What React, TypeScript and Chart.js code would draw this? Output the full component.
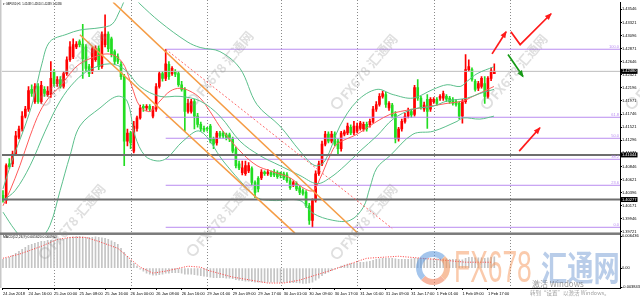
import React, { useEffect, useRef } from "react";
import { Chart, registerables } from "chart.js";

Chart.register(...registerables);

const symbolTitle = "▾ GBPUSD,H1  1.42439 1.42610 1.42439 1.42480";
const macdTitle = "MACD(12,26,9) 0.001620 0.000960";

const timeLabels = [
  "24 Jan 2018", "24 Jan 16:00", "25 Jan 00:00", "25 Jan 08:00", "25 Jan 16:00",
  "26 Jan 00:00", "26 Jan 08:00", "26 Jan 16:00", "29 Jan 01:00", "29 Jan 09:00",
  "29 Jan 17:00", "30 Jan 01:00", "30 Jan 09:00", "30 Jan 17:00", "31 Jan 01:00",
  "31 Jan 09:00", "31 Jan 17:00", "1 Feb 01:00", "1 Feb 09:00", "1 Feb 17:00",
];
const barsPerTimeLabel = 8;
const daySeparatorBars = [16, 40, 64, 87, 111, 135, 159];

const opens = [
  1.4035, 1.4026, 1.4089, 1.4089, 1.4106, 1.4135, 1.4149, 1.4171, 1.4183, 1.4217,
  1.4196, 1.4222, 1.4196, 1.4217, 1.4208, 1.4208, 1.4248, 1.4227, 1.4234, 1.4222,
  1.4244, 1.4268, 1.4273, 1.4290, 1.4299, 1.4295, 1.4290, 1.4256, 1.4248, 1.4268,
  1.4287, 1.4256, 1.4294, 1.4312, 1.4304, 1.4282, 1.4273, 1.4260, 1.4239, 1.4128,
  1.4142, 1.4111, 1.4150, 1.4168, 1.4188, 1.4185, 1.4188, 1.4171, 1.4183, 1.4222,
  1.4244, 1.4236, 1.4260, 1.4244, 1.4248, 1.4244, 1.4225, 1.4217, 1.4179, 1.4179,
  1.4196, 1.4171, 1.4157, 1.4150, 1.4150, 1.4154, 1.4132, 1.4125, 1.4142, 1.4142,
  1.4139, 1.4139, 1.4132, 1.4115, 1.4089, 1.4074, 1.4072, 1.4077, 1.4081, 1.4057,
  1.4064, 1.4065, 1.4075, 1.4072, 1.4074, 1.4075, 1.4074, 1.4074, 1.4072, 1.4070,
  1.4060, 1.4053, 1.4055, 1.4048, 1.4043, 1.4040, 1.4017, 1.3992, 1.4026, 1.4072,
  1.4089, 1.4123, 1.4140, 1.4128, 1.4140, 1.4128, 1.4115, 1.4140, 1.4142, 1.4152,
  1.4142, 1.4145, 1.4150, 1.4149, 1.4157, 1.4156, 1.4162, 1.4183, 1.4191, 1.4205,
  1.4208, 1.4185, 1.4190, 1.4174, 1.4132, 1.4149, 1.4162, 1.4171, 1.4179, 1.4174,
  1.4220, 1.4202, 1.4183, 1.4200, 1.4183, 1.4196, 1.4200, 1.4202, 1.4202, 1.4205,
  1.4202, 1.4200, 1.4196, 1.4193, 1.4171, 1.4196, 1.4251, 1.4251, 1.4231, 1.4219,
  1.4222, 1.4227, 1.4205, 1.4236, 1.4244,
];
const highs = [
  1.4043, 1.4089, 1.4098, 1.4111, 1.4145, 1.4154, 1.4179, 1.4188, 1.4222, 1.4225,
  1.4227, 1.4227, 1.4231, 1.4222, 1.4222, 1.4265, 1.4251, 1.4239, 1.4239, 1.4248,
  1.4273, 1.4299, 1.4304, 1.4299, 1.4302, 1.4329, 1.4294, 1.4260, 1.4290, 1.4292,
  1.4292, 1.4316, 1.4345, 1.4316, 1.4307, 1.4285, 1.4278, 1.4265, 1.4243, 1.4149,
  1.4145, 1.4162, 1.4171, 1.4190, 1.4191, 1.4191, 1.4191, 1.4188, 1.4227, 1.4248,
  1.4248, 1.4286, 1.4265, 1.4256, 1.4251, 1.4248, 1.4231, 1.4220, 1.4200, 1.4200,
  1.4200, 1.4176, 1.4161, 1.4154, 1.4152, 1.4157, 1.4135, 1.4145, 1.4145, 1.4145,
  1.4142, 1.4142, 1.4135, 1.4118, 1.4094, 1.4094, 1.4094, 1.4091, 1.4084, 1.4060,
  1.4067, 1.4079, 1.4077, 1.4079, 1.4077, 1.4079, 1.4077, 1.4075, 1.4075, 1.4074,
  1.4064, 1.4060, 1.4058, 1.4052, 1.4046, 1.4043, 1.4021, 1.4029, 1.4077, 1.4094,
  1.4128, 1.4145, 1.4144, 1.4145, 1.4144, 1.4132, 1.4145, 1.4147, 1.4159, 1.4156,
  1.4162, 1.4159, 1.4162, 1.4161, 1.4161, 1.4166, 1.4188, 1.4196, 1.4210, 1.4214,
  1.4212, 1.4196, 1.4193, 1.4179, 1.4152, 1.4166, 1.4176, 1.4185, 1.4183, 1.4224,
  1.4234, 1.4205, 1.4195, 1.4208, 1.4203, 1.4203, 1.4203, 1.4208, 1.4214, 1.4208,
  1.4205, 1.4203, 1.4200, 1.4196, 1.4200, 1.4277, 1.4268, 1.4254, 1.4234, 1.4231,
  1.4239, 1.4239, 1.4239, 1.4254, 1.4261,
];
const lows = [
  1.4023, 1.4021, 1.4081, 1.4084, 1.4103, 1.4132, 1.4145, 1.4168, 1.4179, 1.4205,
  1.4193, 1.4193, 1.4193, 1.4205, 1.4205, 1.4203, 1.4222, 1.4222, 1.4219, 1.4219,
  1.4241, 1.4265, 1.4270, 1.4287, 1.4290, 1.4236, 1.4248, 1.4239, 1.4244, 1.4265,
  1.4251, 1.4253, 1.4290, 1.4282, 1.4273, 1.4260, 1.4261, 1.4234, 1.4086, 1.4120,
  1.4115, 1.4108, 1.4145, 1.4166, 1.4179, 1.4181, 1.4179, 1.4168, 1.4179, 1.4219,
  1.4231, 1.4232, 1.4234, 1.4241, 1.4239, 1.4222, 1.4214, 1.4145, 1.4176, 1.4176,
  1.4149, 1.4152, 1.4145, 1.4144, 1.4145, 1.4125, 1.4115, 1.4121, 1.4133, 1.4133,
  1.4130, 1.4127, 1.4108, 1.4082, 1.4079, 1.4070, 1.4069, 1.4074, 1.4053, 1.4031,
  1.4041, 1.4062, 1.4069, 1.4069, 1.4067, 1.4067, 1.4064, 1.4065, 1.4062, 1.4057,
  1.4045, 1.4050, 1.4043, 1.4036, 1.4035, 1.4014, 1.3985, 1.3980, 1.4023, 1.4069,
  1.4086, 1.4120, 1.4125, 1.4125, 1.4120, 1.4106, 1.4111, 1.4137, 1.4139, 1.4139,
  1.4139, 1.4142, 1.4147, 1.4145, 1.4145, 1.4152, 1.4159, 1.4179, 1.4188, 1.4202,
  1.4186, 1.4181, 1.4168, 1.4125, 1.4128, 1.4145, 1.4159, 1.4168, 1.4169, 1.4171,
  1.4198, 1.4183, 1.4179, 1.4150, 1.4179, 1.4193, 1.4190, 1.4198, 1.4198, 1.4196,
  1.4193, 1.4190, 1.4188, 1.4166, 1.4159, 1.4193, 1.4248, 1.4231, 1.4214, 1.4215,
  1.4219, 1.4193, 1.4202, 1.4232, 1.4244,
];
const closes = [
  1.4026, 1.4086, 1.4084, 1.4106, 1.4137, 1.4149, 1.4171, 1.4183, 1.4215, 1.4210,
  1.4222, 1.4196, 1.4224, 1.4210, 1.4214, 1.4236, 1.4227, 1.4234, 1.4222, 1.4244,
  1.4268, 1.4290, 1.4294, 1.4295, 1.4294, 1.4270, 1.4253, 1.4244, 1.4287, 1.4287,
  1.4256, 1.4311, 1.4312, 1.4287, 1.4277, 1.4265, 1.4265, 1.4239, 1.4128, 1.4142,
  1.4125, 1.4154, 1.4168, 1.4185, 1.4185, 1.4188, 1.4183, 1.4183, 1.4222, 1.4244,
  1.4236, 1.4261, 1.4239, 1.4253, 1.4243, 1.4225, 1.4217, 1.4179, 1.4193, 1.4196,
  1.4171, 1.4157, 1.4149, 1.4147, 1.4149, 1.4128, 1.4123, 1.4142, 1.4137, 1.4137,
  1.4133, 1.4132, 1.4111, 1.4086, 1.4082, 1.4082, 1.4086, 1.4086, 1.4057, 1.4040,
  1.4046, 1.4075, 1.4072, 1.4075, 1.4070, 1.4070, 1.4067, 1.4069, 1.4065, 1.4060,
  1.4048, 1.4057, 1.4046, 1.4040, 1.4038, 1.4017, 1.3992, 1.4026, 1.4072, 1.4089,
  1.4123, 1.4140, 1.4128, 1.4140, 1.4123, 1.4115, 1.4142, 1.4144, 1.4154, 1.4142,
  1.4154, 1.4154, 1.4159, 1.4157, 1.4149, 1.4162, 1.4183, 1.4191, 1.4205, 1.4210,
  1.4191, 1.4193, 1.4171, 1.4132, 1.4149, 1.4162, 1.4171, 1.4179, 1.4173, 1.4220,
  1.4202, 1.4186, 1.4190, 1.4179, 1.4200, 1.4200, 1.4193, 1.4205, 1.4210, 1.4200,
  1.4196, 1.4193, 1.4191, 1.4171, 1.4196, 1.4251, 1.4256, 1.4234, 1.4217, 1.4227,
  1.4236, 1.4205, 1.4236, 1.4249, 1.4248,
];

// Bollinger bands and moving average as [bar, price]
const bbUpper = [
  [0, 1.4046], [2.8, 1.4094], [6.9, 1.4154], [9.4, 1.4197], [12.2, 1.4261], [14.7, 1.4299],
  [20.1, 1.4312], [24.1, 1.4319], [30.4, 1.4323], [34.2, 1.4329], [36.7, 1.4353], [38.9, 1.4376],
  [40.8, 1.4376], [42.9, 1.4364], [49.2, 1.4333], [57.7, 1.4299], [61.8, 1.4289], [68, 1.4282],
  [74.3, 1.4253], [79.6, 1.4191], [86.8, 1.4154], [93.1, 1.4111], [97.8, 1.4086], [100.9, 1.4094],
  [105.6, 1.4154], [111, 1.4197], [117.2, 1.4217], [122.3, 1.4208], [128.5, 1.4202], [134.8, 1.4217],
  [139.2, 1.4225], [143.3, 1.4222], [145.5, 1.4231], [148.6, 1.4244], [153.9, 1.4256],
];
const bbMiddle = [
  [0, 1.4026], [3.8, 1.4043], [8.5, 1.4086], [13.2, 1.4145], [17.9, 1.4197], [22.6, 1.4231],
  [27.3, 1.4251], [33.5, 1.4261], [38.2, 1.4251], [42.9, 1.4222], [49.2, 1.4205], [55.5, 1.4205],
  [61.8, 1.4197], [68, 1.4171], [74.3, 1.4128], [80.6, 1.4103], [86.8, 1.4086], [93.1, 1.4069],
  [98.4, 1.4055], [102.5, 1.4065], [107.2, 1.4086], [111.9, 1.4111], [117.2, 1.4137], [122.3, 1.4166],
  [128.5, 1.4183], [134.8, 1.4188], [139.2, 1.4197], [145.5, 1.4202], [149.5, 1.4210], [153.9, 1.4217],
];
const bbLower = [
  [0, 1.4006], [3.8, 1.3975], [6.9, 1.3958], [11.6, 1.3961], [14.7, 1.3983], [17.9, 1.4043],
  [21, 1.4103], [24.1, 1.4154], [30.4, 1.4185], [35.7, 1.4205], [38.9, 1.4197], [41.4, 1.4137],
  [44.5, 1.4103], [48.3, 1.4094], [51.4, 1.4099], [56.4, 1.4128], [61.8, 1.4145], [69, 1.4094],
  [74.3, 1.4060], [79.6, 1.4031], [84.6, 1.4026], [93.1, 1.4026], [97.2, 1.4004], [103.4, 1.3992],
  [108.8, 1.3992], [112.9, 1.4014], [115, 1.4048], [117.2, 1.4082], [121.3, 1.4103], [128.5, 1.4140],
  [134.8, 1.4145], [142.3, 1.4162], [144.2, 1.4168], [149.5, 1.4166], [153.9, 1.4171],
];
const maRed = [
  [0, 1.4017], [2.2, 1.4043], [5.3, 1.4086], [8.5, 1.4137], [11.6, 1.4179], [14.7, 1.4205],
  [17.9, 1.4222], [21, 1.4244], [24.1, 1.4261], [28.8, 1.4273], [32.6, 1.4278], [35.7, 1.4273],
  [38.2, 1.4256], [40.4, 1.4222], [42.9, 1.4188], [46.1, 1.4179], [49.2, 1.4197], [52.4, 1.4214],
  [55.5, 1.4219], [58.6, 1.4214], [61.8, 1.4202], [64.9, 1.4179], [69, 1.4145], [75.2, 1.4106],
  [79.6, 1.4086], [83.7, 1.4077], [90, 1.4065], [94, 1.4048], [97.2, 1.4043], [99.4, 1.4064],
  [102.5, 1.4103], [104.7, 1.4123], [111, 1.4140], [117.2, 1.4162], [121.3, 1.4174], [124.5, 1.4179],
  [130.7, 1.4185], [139.2, 1.4193], [144.2, 1.4197], [147.3, 1.4205], [153.9, 1.4222],
];

const macdMain = [
  0.0018, 0.0020, 0.0022, 0.0026, 0.0030, 0.0034, 0.0038, 0.0042, 0.0046, 0.0048,
  0.0050, 0.0052, 0.0054, 0.0054, 0.0056, 0.0056, 0.0056, 0.0058, 0.0058, 0.0058,
  0.0060, 0.0062, 0.0063, 0.0064, 0.0064, 0.0063, 0.0062, 0.0062, 0.0062, 0.0063,
  0.0062, 0.0061, 0.0060, 0.0058, 0.0055, 0.0052, 0.0048, 0.0040, 0.0032, 0.0024,
  0.0016, 0.0010, 0.0004, -0.0002, -0.0006, -0.0010, -0.0012, -0.0014, -0.0014, -0.0013,
  -0.0012, -0.0010, -0.0010, -0.0009, -0.0009, -0.0009, -0.0010, -0.0012, -0.0012, -0.0012,
  -0.0013, -0.0014, -0.0015, -0.0016, -0.0017, -0.0018, -0.0019, -0.0019, -0.0019, -0.0019,
  -0.0020, -0.0020, -0.0021, -0.0023, -0.0024, -0.0025, -0.0026, -0.0026, -0.0027, -0.0028,
  -0.0028, -0.0028, -0.0028, -0.0028, -0.0028, -0.0028, -0.0028, -0.0028, -0.0028, -0.0028,
  -0.0029, -0.0029, -0.0029, -0.0030, -0.0031, -0.0031, -0.0030, -0.0028, -0.0024, -0.0020,
  -0.0015, -0.0011, -0.0008, -0.0005, -0.0002, 0.0001, 0.0004, 0.0006, 0.0008, 0.0009,
  0.0010, 0.0011, 0.0012, 0.0012, 0.0013, 0.0014, 0.0016, 0.0018, 0.0019, 0.0020,
  0.0020, 0.0020, 0.0020, 0.0019, 0.0018, 0.0018, 0.0018, 0.0018, 0.0019, 0.0020,
  0.0020, 0.0020, 0.0020, 0.0019, 0.0019, 0.0019, 0.0019, 0.0019, 0.0019, 0.0019,
  0.0018, 0.0018, 0.0018, 0.0017, 0.0017, 0.0020, 0.0022, 0.0022, 0.0021, 0.0021,
  0.0021, 0.0020, 0.0021, 0.0022, 0.0023,
];
const macdSignal = [
  [0, 0.0020], [5, 0.0028], [12, 0.0044], [17, 0.0058], [21, 0.0062], [26, 0.0062],
  [30, 0.0054], [36, 0.0040], [40, 0.0018], [43, 0.0002], [47, -0.0010], [51, -0.0006],
  [58, 0.0004], [62, 0.0002], [64, -0.0004], [72, -0.0018], [83, -0.0030], [88, -0.0030],
  [93, -0.0024], [103, -0.0004], [114, 0.0020], [124, 0.0024], [135, 0.0018], [145, 0.0012],
  [153, 0.0012],
];

const fiboHigh = 1.4286;
const fiboLow = 1.3980;
const fiboStartBar = 51;
const fiboLevels = [0, 23.6, 38.2, 50, 61.8, 100];
const fiboTrend = [[51, 1.4286], [122, 1.3978]];
const channelUpper = [[34.5, 1.4367], [111, 1.3971]];
const channelLower = [[24.1, 1.4311], [91.5, 1.3970]];
const supportLevels = [1.41044, 1.40277];
const currentPrice = 1.4248;

const arrowRedA = [[153.3, 1.4278], [157.7, 1.4316]];
const arrowRedB = [[159.2, 1.4316], [162.1, 1.4294], [171.8, 1.4347]];
const arrowGreen = [[158.3, 1.4277], [163.0, 1.4239]];
const arrowRedC = [[161.8, 1.4111], [168.3, 1.4151]];

const priceTicks = [
  1.43546, 1.43321, 1.43096, 1.42871, 1.42646, 1.42421, 1.42196, 1.41971, 1.41746,
  1.41521, 1.41296, 1.41071, 1.40846, 1.40621, 1.40396, 1.40171, 1.39946, 1.39721,
];
const macdTicks = [0.006436, 0, -0.003843];
const macdTickLabels = ["0.006436", "0.00", "-0.003843"];

const X_MIN = -0.31;
const X_MAX = 193.4;
const PRICE_TOP = 1.43665;
const PRICE_BOTTOM = 1.39694;
const MACD_TOP = 0.007;
const MACD_BOTTOM = -0.004;

const FONT = '"Liberation Sans", Arial, sans-serif';
const FIBO_COLOR = "#b98cf0";

const pts = (arr: number[][]) => arr.map(([x, y]) => ({ x, y }));
const fiboPrice = (lvl: number) => fiboLow + ((fiboHigh - fiboLow) * lvl) / 100;

const watermarkSpots = [
  [45, 100], [193, 100], [337, 103], [487, 103], [632, 103],
  [45, 253], [193, 250], [337, 253],
];

export default function App() {
  const canvasRef = useRef<HTMLCanvasElement | null>(null);

  useEffect(() => {
    document.body.style.margin = "0";
    const canvas = canvasRef.current;
    if (!canvas) return;

    const RED = "#ff0000";
    const GREEN = "#22dd22";
    const colors = closes.map((c, i) => (c >= opens[i] ? RED : GREEN));

    const line = (data: any[], color: string, width: number, extra: any = {}) => ({
      type: "line",
      data,
      borderColor: color,
      borderWidth: width,
      pointRadius: 0,
      fill: false,
      yAxisID: "y",
      clip: false,
      order: 5,
      ...extra,
    });

    const hLine = (price: number, color: string, width: number, from: number, order = 6) =>
      line([{ x: from, y: price }, { x: X_MAX, y: price }], color, width, { order });

    const datasets: any[] = [
      {
        type: "bar",
        data: highs.map((h, i) => ({ x: i, y: [lows[i], h] })),
        backgroundColor: colors,
        barThickness: 1,
        grouped: false,
        yAxisID: "y",
        clip: false,
        order: 20,
      },
      {
        type: "bar",
        data: opens.map((o, i) => ({ x: i, y: [o, closes[i]] })),
        backgroundColor: colors,
        barThickness: 2,
        minBarLength: 1,
        grouped: false,
        yAxisID: "y",
        clip: false,
        order: 19,
      },
      {
        type: "bar",
        data: macdMain.map((v, i) => ({ x: i, y: v })),
        backgroundColor: "#c4c4c4",
        barThickness: 1,
        grouped: false,
        yAxisID: "y2",
        clip: false,
        order: 20,
      },
      line(pts(macdSignal), "#ff3b3b", 1, { yAxisID: "y2", borderDash: [1, 1.5], order: 2 }),
      line(pts(bbUpper), "#5cbf8c", 1, { tension: 0.35 }),
      line(pts(bbMiddle), "#5cbf8c", 1, { tension: 0.35 }),
      line(pts(bbLower), "#5cbf8c", 1, { tension: 0.35 }),
      line(pts(maRed), "#ff5a5a", 1, { tension: 0.35 }),
      ...fiboLevels.map((lvl) => hLine(fiboPrice(lvl), FIBO_COLOR, 1, fiboStartBar)),
      ...supportLevels.map((p) => hLine(p, "#6e6e6e", 2, X_MIN, 4)),
      hLine(currentPrice, "#bdbdbd", 1, X_MIN, 7),
      line(pts(fiboTrend), "#ff6a6a", 1, { borderDash: [2, 2], order: 3 }),
      line(pts(channelUpper), "#f59c45", 1.5, { order: 3 }),
      line(pts(channelLower), "#f59c45", 1.5, { order: 3 }),
    ];

    const drawArrow = (ctx: CanvasRenderingContext2D, chart: any, path: number[][], color: string) => {
      const xs = chart.scales.x;
      const ys = chart.scales.y;
      const p = path.map(([b, v]) => [xs.getPixelForValue(b), ys.getPixelForValue(v)]);
      ctx.save();
      ctx.strokeStyle = color;
      ctx.fillStyle = color;
      ctx.lineWidth = 1.7;
      ctx.setLineDash([]);
      ctx.beginPath();
      p.forEach(([px, py], k) => (k ? ctx.lineTo(px, py) : ctx.moveTo(px, py)));
      ctx.stroke();
      const [x1, y1] = p[p.length - 2];
      const [x2, y2] = p[p.length - 1];
      const a = Math.atan2(y2 - y1, x2 - x1);
      const L = 6;
      const W = 2.8;
      ctx.beginPath();
      ctx.moveTo(x2 + Math.cos(a), y2 + Math.sin(a));
      ctx.lineTo(x2 - L * Math.cos(a) + W * Math.sin(a), y2 - L * Math.sin(a) - W * Math.cos(a));
      ctx.lineTo(x2 - L * Math.cos(a) - W * Math.sin(a), y2 - L * Math.sin(a) + W * Math.cos(a));
      ctx.closePath();
      ctx.fill();
      ctx.restore();
    };

    const overlay = {
      id: "mt4Overlay",
      beforeDatasetDraw(chart: any, args: any) {
        const { ctx } = chart;
        const xs = chart.scales.x;
        const ys = args.meta.yScale;
        ctx.save();
        ctx.beginPath();
        ctx.rect(xs.left, ys.top, xs.right - xs.left, ys.bottom - ys.top);
        ctx.clip();
      },
      afterDatasetDraw(chart: any) {
        chart.ctx.restore();
      },
      beforeDatasetsDraw(chart: any) {
        const { ctx } = chart;
        const xs = chart.scales.x;
        ctx.save();
        ctx.strokeStyle = "#8a8a8a";
        ctx.lineWidth = 1;
        ctx.setLineDash([1, 2]);
        for (const b of daySeparatorBars) {
          const px = Math.round(xs.getPixelForValue(b)) + 0.5;
          ctx.beginPath();
          ctx.moveTo(px, 0);
          ctx.lineTo(px, xs.top);
          ctx.stroke();
        }
        ctx.restore();
      },
      afterDatasetsDraw(chart: any) {
        const { ctx } = chart;
        const xs = chart.scales.x;
        const ys = chart.scales.y;
        const ym = chart.scales.y2;
        ctx.save();
        ctx.fillStyle = "#c8c8c8";
        ctx.fillRect(0, 0, 1.5, xs.top);
        ctx.fillStyle = "#7a7a7a";
        ctx.fillRect(0, ys.bottom - 1, xs.right, 2.5);

        ctx.font = `4px ${FONT}`;
        ctx.fillStyle = FIBO_COLOR;
        ctx.textAlign = "right";
        ctx.textBaseline = "bottom";
        for (const lvl of fiboLevels) {
          const py = ys.getPixelForValue(fiboPrice(lvl));
          ctx.fillText(lvl.toFixed(1), xs.right - 1, py - 0.5);
        }

        ctx.fillStyle = "#000";
        ctx.textAlign = "left";
        ctx.textBaseline = "middle";
        ctx.font = `2.6px ${FONT}`;
        ctx.fillText(symbolTitle, 3, 4.5);
        ctx.font = `3.4px ${FONT}`;
        ctx.fillText(macdTitle, 3, ym.top + 4);
        ctx.restore();

        drawArrow(ctx, chart, arrowRedA, "#ff1a1a");
        drawArrow(ctx, chart, arrowRedB, "#ff1a1a");
        drawArrow(ctx, chart, arrowGreen, "#169a16");
        drawArrow(ctx, chart, arrowRedC, "#ff1a1a");
      },
      afterDraw(chart: any) {
        const { ctx } = chart;
        const xs = chart.scales.x;
        const ys = chart.scales.y;
        ctx.save();
        ctx.font = `4px ${FONT}`;
        ctx.textAlign = "left";
        ctx.textBaseline = "middle";
        for (const p of [currentPrice, ...supportLevels]) {
          const py = ys.getPixelForValue(p);
          ctx.fillStyle = "#000";
          ctx.fillRect(xs.right + 0.5, py - 2.5, 17, 5);
          ctx.fillStyle = "#fff";
          ctx.fillText(p.toFixed(5), xs.right + 2, py);
        }
        ctx.restore();
      },
    };

    const chart = new Chart(canvas, {
      type: "line",
      data: { datasets },
      plugins: [overlay],
      options: {
        responsive: false,
        animation: false,
        events: [],
        layout: { padding: { left: 2, right: 0, top: 0, bottom: 0 } },
        plugins: { legend: { display: false }, tooltip: { enabled: false } },
        scales: {
          x: {
            type: "linear",
            min: X_MIN,
            max: X_MAX,
            offset: false,
            position: "bottom",
            border: { color: "#000", width: 1 },
            grid: { drawOnChartArea: false, tickLength: 2, color: "#000", offset: false },
            afterFit: (s: any) => {
              s.height = 12;
            },
            afterBuildTicks: (s: any) => {
              s.ticks = timeLabels.map((_, i) => ({ value: i * barsPerTimeLabel }));
            },
            ticks: {
              autoSkip: false,
              maxRotation: 0,
              minRotation: 0,
              align: "start",
              padding: 1,
              color: "#000",
              font: { size: 4, family: FONT },
              callback: (_v: any, i: number) => timeLabels[i],
            },
          },
          y: {
            type: "linear",
            position: "right",
            stack: "win",
            stackWeight: 233,
            min: PRICE_BOTTOM,
            max: PRICE_TOP,
            border: { color: "#000", width: 1 },
            grid: { drawOnChartArea: false, tickLength: 2, color: "#000" },
            afterFit: (s: any) => {
              s.width = 20;
            },
            afterBuildTicks: (s: any) => {
              s.ticks = [...priceTicks].sort((a, b) => a - b).map((v) => ({ value: v }));
            },
            ticks: {
              autoSkip: false,
              padding: 0,
              color: "#000",
              font: { size: 4, family: FONT },
              callback: (v: any) => Number(v).toFixed(5),
            },
          },
          y2: {
            type: "linear",
            position: "right",
            stack: "win",
            stackWeight: 55,
            min: MACD_BOTTOM,
            max: MACD_TOP,
            border: { color: "#000", width: 1 },
            grid: { drawOnChartArea: false, tickLength: 2, color: "#000" },
            afterFit: (s: any) => {
              s.width = 20;
            },
            afterBuildTicks: (s: any) => {
              s.ticks = [...macdTicks].sort((a, b) => a - b).map((v) => ({ value: v }));
            },
            ticks: {
              autoSkip: false,
              padding: 0,
              color: "#000",
              font: { size: 4, family: FONT },
              callback: (v: any) => {
                const k = macdTicks.findIndex((t) => Math.abs(t - Number(v)) < 1e-9);
                return k >= 0 ? macdTickLabels[k] : "";
              },
            },
          },
        },
      } as any,
    } as any);

    return () => chart.destroy();
  }, []);

  return (
    <div style={{ position: "relative", width: 640, height: 300, overflow: "hidden", background: "#fff" }}>
      <canvas ref={canvasRef} width={640} height={300} style={{ display: "block" }} />
      {watermarkSpots.map(([x, y], k) => (
        <div
          key={k}
          style={{
            position: "absolute",
            left: x - 6,
            top: y - 8,
            height: 16,
            lineHeight: "16px",
            transform: "rotate(-50deg)",
            transformOrigin: "6px 8px",
            whiteSpace: "nowrap",
            pointerEvents: "none",
            display: "flex",
            alignItems: "center",
            gap: 2,
            color: "rgba(140,140,140,0.28)",
            font: 'bold 13px "Noto Sans CJK SC", sans-serif',
          }}
        >
          <span
            style={{
              display: "inline-block",
              width: 8,
              height: 8,
              borderRadius: "50%",
              border: "2px solid rgba(140,140,140,0.28)",
            }}
          />
          <span>FX678 汇通网</span>
        </div>
      ))}
      <div
        style={{
          position: "absolute",
          left: 416,
          top: 251,
          width: 34,
          height: 34,
          borderRadius: "50%",
          border: "6px solid",
          borderColor: "rgba(90,150,220,0.55) rgba(240,140,80,0.55) rgba(240,120,80,0.55) rgba(90,150,220,0.55)",
          boxSizing: "border-box",
          pointerEvents: "none",
        }}
      />
      <div
        style={{
          position: "absolute",
          left: 454,
          top: 245,
          font: '44px "Liberation Sans", Arial, sans-serif',
          lineHeight: "44px",
          color: "rgba(246,150,90,0.5)",
          transform: "scaleX(0.6)",
          transformOrigin: "0 0",
          whiteSpace: "nowrap",
          pointerEvents: "none",
        }}
      >
        FX678
      </div>
      <div
        style={{
          position: "absolute",
          left: 541,
          top: 246,
          font: 'bold 35px "Noto Sans CJK SC", sans-serif',
          lineHeight: "40px",
          color: "rgba(80,130,200,0.4)",
          transform: "scaleX(0.75)",
          transformOrigin: "0 0",
          whiteSpace: "nowrap",
          pointerEvents: "none",
        }}
      >
        汇通网
      </div>
      <div
        style={{
          position: "absolute",
          left: 532,
          top: 279,
          font: '8px "Noto Sans CJK SC", sans-serif',
          lineHeight: "9px",
          color: "rgba(120,120,120,0.75)",
          whiteSpace: "nowrap",
          pointerEvents: "none",
        }}
      >
        激活 Windows
      </div>
      <div
        style={{
          position: "absolute",
          left: 530,
          top: 290,
          font: '5.5px "Noto Sans CJK SC", sans-serif',
          lineHeight: "7px",
          color: "rgba(120,120,120,0.7)",
          whiteSpace: "nowrap",
          pointerEvents: "none",
        }}
      >
        转到“设置”以激活 Windows。
      </div>
    </div>
  );
}
